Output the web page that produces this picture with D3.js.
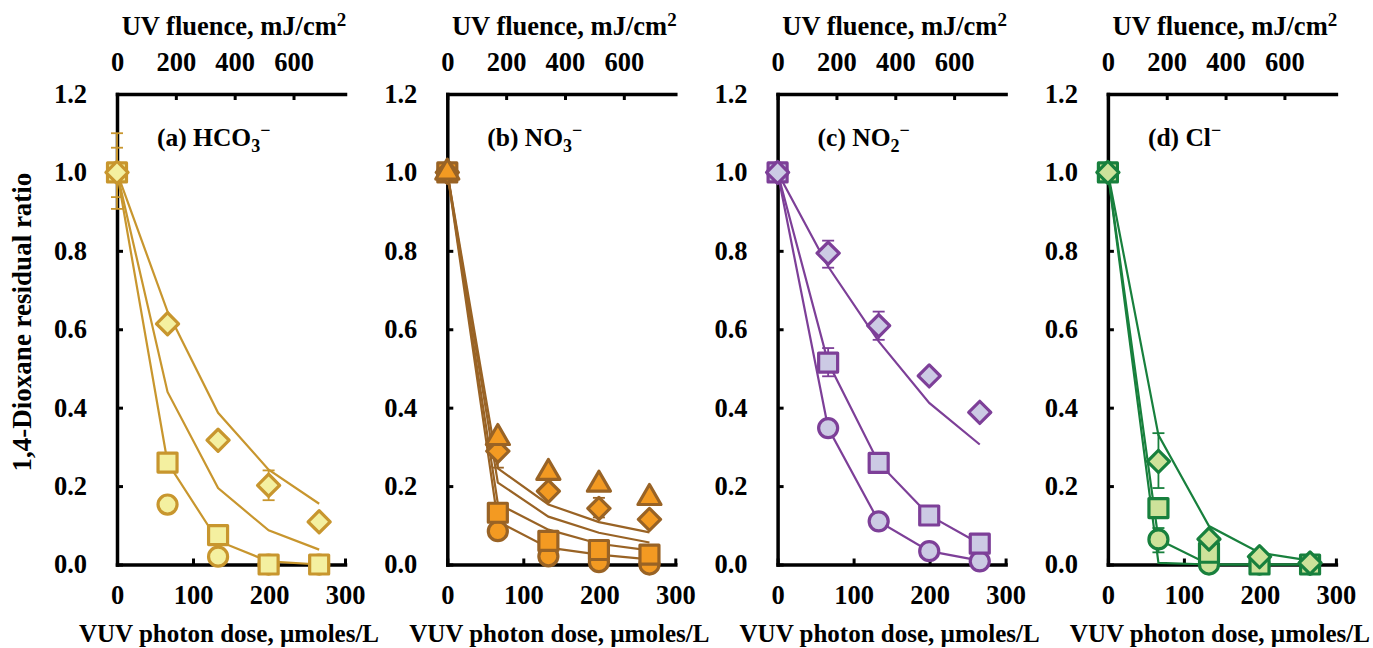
<!DOCTYPE html>
<html lang="en">
<head>
<meta charset="UTF-8">
<script src="https://d3js.org/d3.v7.min.js"></script>
<title>1,4-Dioxane residual ratio vs VUV photon dose</title>
<style>
    body { margin: 0; background: #fff; }
    svg { display: block; }
    text { font-family: "Liberation Serif", "Times New Roman", serif; font-weight: bold; fill: #000; }
</style>
</head>
<body>
<svg width="1373" height="648"></svg>
<script>
// photon dose (umoles/L) for every measured point
const photonDose = [0, 66.5, 133, 199.5, 266];
const yTicks = [0, 0.2, 0.4, 0.6, 0.8, 1.0, 1.2];
const doseTicks = [0, 100, 200, 300];
const fluenceTicks = [0, 200, 400, 600];

// (a) HCO3-
const hco3Circle  = [1.0, 0.153, 0.020, 0.0, 0.0];
const hco3Square  = [1.0, 0.260, 0.075, 0.0, 0.0];
const hco3Diamond = [1.0, 0.614, 0.317, 0.202, 0.109];
const hco3Model1  = [1.0, 0.645, 0.387, 0.242, 0.155];
const hco3Model2  = [1.0, 0.440, 0.195, 0.087, 0.038];
const hco3Model3  = [1.0, 0.260, 0.060, 0.008, 0.0];
const hco3Err     = [[0, 0.907, 1.10], [0, 0.937, 1.063], [199.5, 0.164, 0.240]];

// (b) NO3-
const no3Circle   = [1.0, 0.085, 0.021, 0.006, 0.0];
const no3Square   = [1.0, 0.132, 0.060, 0.037, 0.025];
const no3Diamond  = [1.0, 0.289, 0.187, 0.143, 0.115];
const no3Triangle = [1.0, 0.323, 0.234, 0.204, 0.170];
const no3Model1   = [1.0, 0.245, 0.153, 0.108, 0.082];
const no3Model2   = [1.0, 0.209, 0.122, 0.081, 0.056];
const no3Model3   = [1.0, 0.155, 0.089, 0.053, 0.036];
const no3Model4   = [1.0, 0.110, 0.043, 0.025, 0.013];
const no3Err      = [[66.5, 0.247, 0.330], [199.5, 0.120, 0.170]];

// (c) NO2-
const no2Circle   = [1.0, 0.348, 0.110, 0.034, 0.008];
const no2Square   = [1.0, 0.515, 0.259, 0.125, 0.053];
const no2Diamond  = [1.0, 0.794, 0.609, 0.481, 0.388];
const no2Model1   = [1.0, 0.760, 0.569, 0.412, 0.306];
const no2Model2   = [1.0, 0.515, 0.259, 0.125, 0.053];
const no2Model3   = [1.0, 0.348, 0.110, 0.034, 0.010];
const no2Err      = [[66.5, 0.757, 0.826], [133, 0.573, 0.645], [66.5, 0.480, 0.552]];

// (d) Cl-
const clCircle    = [1.0, 0.064, 0.0, 0.0, 0.0];
const clSquare    = [1.0, 0.144, 0.030, 0.0, 0.0];
const clDiamond   = [1.0, 0.263, 0.065, 0.020, 0.004];
const clModel1    = [1.0, 0.330, 0.098, 0.030, 0.010];
const clModel2    = [1.0, 0.064, 0.0, 0.0, 0.0];
const clModel3    = [1.0, 0.004, 0.0, 0.0, 0.0];
const clErr       = [[66.5, 0.195, 0.335], [66.5, 0.031, 0.093]];

const panels = [
    { label: ['(a) HCO', '3'], edge: '#C8962E', fill: '#F4F0A0',
      series: [['circle', hco3Circle], ['square', hco3Square], ['diamond', hco3Diamond]],
      models: [hco3Model1, hco3Model2, hco3Model3], errs: hco3Err },
    { label: ['(b) NO', '3'], edge: '#996325', fill: '#F39A22',
      series: [['circle', no3Circle], ['square', no3Square], ['diamond', no3Diamond], ['triangle', no3Triangle]],
      models: [no3Model1, no3Model2, no3Model3, no3Model4], errs: no3Err },
    { label: ['(c) NO', '2'], edge: '#7D3F98', fill: '#CCCAE4',
      series: [['circle', no2Circle], ['square', no2Square], ['diamond', no2Diamond]],
      models: [no2Model1, no2Model2, no2Model3], errs: no2Err },
    { label: ['(d) Cl', null], edge: '#18803D', fill: '#CDE29A',
      series: [['circle', clCircle], ['square', clSquare], ['diamond', clDiamond]],
      models: [clModel1, clModel2, clModel3], errs: clErr }
];

const svg = d3.select('svg');
const plotTop = 94, plotBottom = 564.5, plotW = 228;
const fluenceMax = 775;

const y = d3.scaleLinear().domain([0, 1.2]).range([plotBottom, plotTop]);

const symbols = {
    circle: d3.symbol().type(d3.symbolCircle).size(285),
    square: d3.symbol().type(d3.symbolSquare).size(361),
    diamond: d3.symbol().type(d3.symbolSquare).size(245),
    triangle: d3.symbol().type(d3.symbolTriangle).size(230)
};

function styleAxis(g) {
    g.select('.domain').attr('stroke', '#000').attr('stroke-width', 3.5).attr('stroke-linecap', 'square');
    g.selectAll('.tick line').attr('stroke', '#000').attr('stroke-width', 3);
    g.selectAll('.tick text')
        .attr('font-size', 26.5)
        .attr('font-family', '"Liberation Serif", "Times New Roman", serif')
        .attr('font-weight', 'bold');
}

panels.forEach((p, i) => {
    const left = 117 + i * 330.3;
    const x = d3.scaleLinear().domain([0, 300]).range([left, left + plotW]);
    const xTop = d3.scaleLinear().domain([0, fluenceMax]).range([left, left + plotW]);
    const g = svg.append('g');

    g.append('g')
        .attr('transform', `translate(0,${plotBottom})`)
        .call(d3.axisBottom(x).tickValues(doseTicks).tickSizeInner(-6).tickSizeOuter(0).tickPadding(21))
        .call(styleAxis);

    g.append('g')
        .attr('transform', `translate(0,${plotTop})`)
        .call(d3.axisTop(xTop).tickValues(fluenceTicks).tickSizeInner(-6).tickSizeOuter(0).tickPadding(23))
        .call(styleAxis);

    g.append('g')
        .attr('transform', `translate(${left},0)`)
        .call(d3.axisLeft(y).tickValues(yTicks).tickFormat(d3.format('.1f')).tickSizeInner(-6).tickSizeOuter(0).tickPadding(30))
        .call(styleAxis);

    // axis titles
    const tt = g.append('text')
        .attr('x', left + 117).attr('y', 35)
        .attr('text-anchor', 'middle').attr('font-size', 26.5)
        .text('UV fluence, mJ/cm');
    tt.append('tspan').attr('font-size', 19).attr('dy', -9).text('2');

    g.append('text')
        .attr('x', left + 112).attr('y', 642)
        .attr('text-anchor', 'middle').attr('font-size', 25)
        .text('VUV photon dose, \u00b5moles/L');

    // panel label
    const lab = g.append('text')
        .attr('x', left + 40).attr('y', 146).attr('font-size', 25.5)
        .text(p.label[0]);
    if (p.label[1]) {
        lab.append('tspan').attr('font-size', 18).attr('dy', 6).text(p.label[1]);
        lab.append('tspan').attr('font-size', 18).attr('dy', -16).text('\u2212');
    } else {
        lab.append('tspan').attr('font-size', 18).attr('dy', -10).text('\u2212');
    }

    // model lines
    const line = d3.line().x((d, j) => x(photonDose[j])).y(d => y(d));
    g.selectAll('path.model')
        .data(p.models)
        .join('path')
        .attr('class', 'model')
        .attr('d', line)
        .attr('fill', 'none')
        .attr('stroke', p.edge)
        .attr('stroke-width', 2.2);

    // error bars
    const eb = g.selectAll('g.err')
        .data(p.errs)
        .join('g')
        .attr('class', 'err')
        .attr('stroke', p.edge)
        .attr('stroke-width', 1.8);
    eb.append('line')
        .attr('x1', d => x(d[0])).attr('x2', d => x(d[0]))
        .attr('y1', d => y(d[1])).attr('y2', d => y(d[2]));
    eb.append('line')
        .attr('x1', d => x(d[0]) - 6).attr('x2', d => x(d[0]) + 6)
        .attr('y1', d => y(d[1])).attr('y2', d => y(d[1]));
    eb.append('line')
        .attr('x1', d => x(d[0]) - 6).attr('x2', d => x(d[0]) + 6)
        .attr('y1', d => y(d[2])).attr('y2', d => y(d[2]));

    // markers
    p.series.forEach(([shape, vals]) => {
        g.selectAll(null)
            .data(vals)
            .join('path')
            .attr('d', symbols[shape])
            .attr('transform', (d, j) => `translate(${x(photonDose[j])},${y(d)})` + (shape === 'diamond' ? ' rotate(45)' : ''))
            .attr('fill', p.fill)
            .attr('stroke', p.edge)
            .attr('stroke-width', 3.2)
            .attr('stroke-linejoin', 'round');
    });
});

// y axis title
svg.append('text')
    .attr('transform', 'translate(31,322) rotate(-90)')
    .attr('text-anchor', 'middle').attr('font-size', 27)
    .text('1,4-Dioxane residual ratio');
</script>
</body>
</html>
